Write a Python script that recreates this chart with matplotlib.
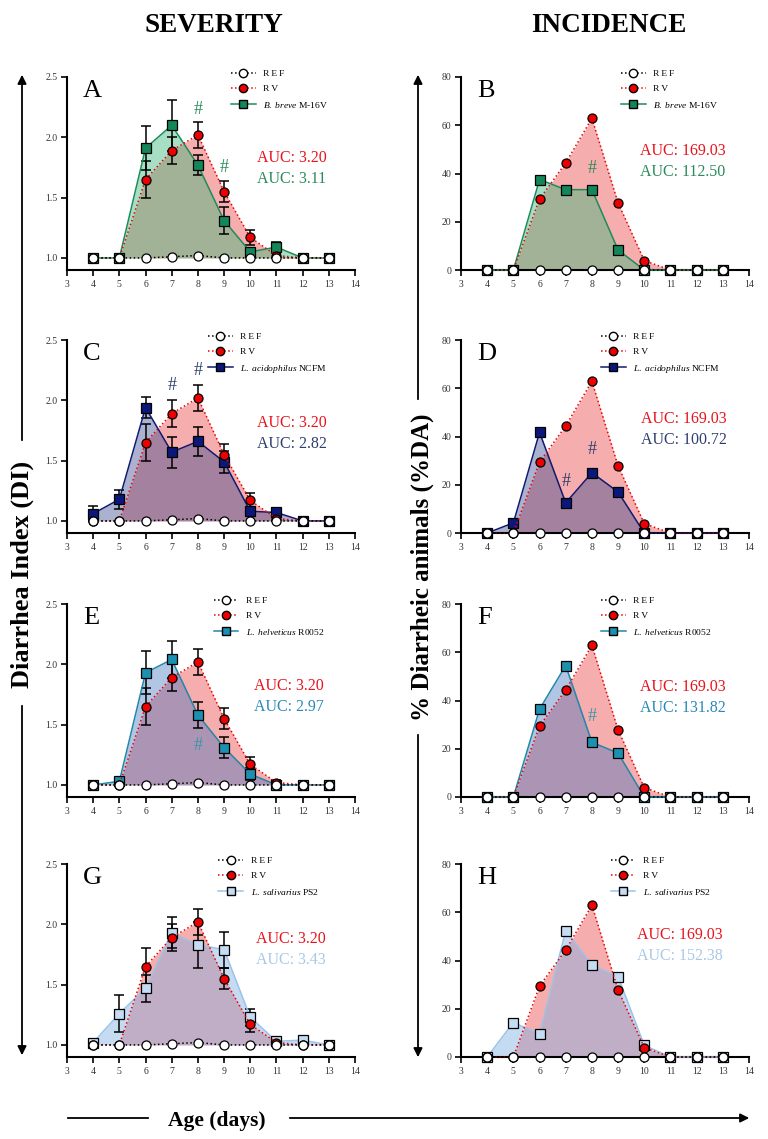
import matplotlib
matplotlib.use("Agg")
import matplotlib.pyplot as plt
from matplotlib.lines import Line2D
from matplotlib.patches import FancyArrowPatch
import numpy as np

plt.rcParams["font.family"] = ["Liberation Serif", "DejaVu Serif"]
plt.rcParams["mathtext.fontset"] = "custom"
plt.rcParams["mathtext.it"] = "Liberation Serif:italic"
plt.rcParams["mathtext.rm"] = "Liberation Serif"

days = [4, 5, 6, 7, 8, 9, 10, 11, 12, 13]

# severity (diarrhea index)
di_ref = [1.0, 1.0, 1.0, 1.01, 1.02, 1.0, 1.0, 1.0, 1.0, 1.0]
di_rv = [1.0, 1.0, 1.65, 1.89, 2.02, 1.55, 1.17, 1.02, 1.0, 1.0]
di_rv_sem = [0, 0, 0.15, 0.11, 0.11, 0.09, 0.06, 0.02, 0, 0]
di_breve = [1.0, 1.0, 1.91, 2.10, 1.77, 1.31, 1.05, 1.09, 1.0, 1.0]
di_breve_sem = [0, 0, 0.18, 0.21, 0.08, 0.11, 0.02, 0.04, 0, 0]
di_acid = [1.06, 1.18, 1.94, 1.57, 1.66, 1.49, 1.08, 1.07, 1.0, 1.0]
di_acid_sem = [0.06, 0.08, 0.09, 0.13, 0.12, 0.09, 0.02, 0.04, 0, 0]
di_helv = [1.0, 1.03, 1.93, 2.04, 1.58, 1.31, 1.09, 1.0, 1.0, 1.0]
di_helv_sem = [0, 0, 0.18, 0.15, 0.11, 0.09, 0.05, 0, 0, 0]
di_saliv = [1.02, 1.26, 1.47, 1.93, 1.83, 1.79, 1.23, 1.03, 1.04, 1.0]
di_saliv_sem = [0, 0.15, 0.11, 0.13, 0.19, 0.15, 0.07, 0.01, 0, 0]

# incidence (% diarrheic animals)
da_ref = [0, 0, 0, 0, 0, 0, 0, 0, 0, 0]
da_rv = [0, 0, 29.4, 44.4, 62.9, 27.8, 3.9, 0, 0, 0]
da_breve = [0, 0, 37.5, 33.3, 33.3, 8.3, 0, 0, 0, 0]
da_acid = [0, 4.2, 41.7, 12.5, 25.0, 17.0, 0, 0, 0, 0]
da_helv = [0, 0, 36.4, 54.5, 22.7, 18.2, 0, 0, 0, 0]
da_saliv = [0, 14.3, 9.5, 52.4, 38.1, 33.3, 4.8, 0, 0, 0]

strains = [r"$B.\ breve$ M-16V", r"$L.\ acidophilus$ NCFM",
           r"$L.\ helveticus$ R0052", r"$L.\ salivarius$ PS2"]
auc_rv = ["3.20", "169.03"]
auc_di = ["3.11", "2.82", "2.97", "3.43"]
auc_da = ["112.50", "100.72", "131.82", "152.38"]
# significance marks (day, y)
hash_di = [[(8, 2.23), (9, 1.75)], [(7, 2.12), (8, 2.25)], [(8, 1.33)], []]
hash_da = [[(8, 42)], [(7, 21.5), (8, 34.5)], [(8, 33.5)], []]

di_series = [(di_breve, di_breve_sem), (di_acid, di_acid_sem),
             (di_helv, di_helv_sem), (di_saliv, di_saliv_sem)]
da_series = [da_breve, da_acid, da_helv, da_saliv]

marker_c = ["#14875a", "#0c177a", "#1d8fb0", "#c5dcf2"]
line_c = ["#1e8c5a", "#101a70", "#2188a8", "#9cc3e8"]
fill_c = ["#3dba7c", "#2b3f8a", "#3d6fc0", "#7fb0e3"]
fill_a = [0.45, 0.4, 0.4, 0.45]
auc_c = ["#2a8a5c", "#2d3f6e", "#2a88b8", "#a8c8e8"]
hash_c = ["#2a8a5c", "#2d3f6e", "#3a96a8", "#a8c8e8"]
RED = "#ee0000"

W, H = 768, 1139
fig = plt.figure(figsize=(W / 100, H / 100), dpi=100)

col_left = [67, 461]
row_top = [77, 340, 604, 864]
ax_w, ax_h = 288, 193
letters = ["A", "B", "C", "D", "E", "F", "G", "H"]
leg_x = [[0.61, 0.596], [0.53, 0.526], [0.55, 0.526], [0.566, 0.56]]
auc_pos = [[(0.66, 0.58), (0.62, 0.617)], [(0.66, 0.57), (0.625, 0.59)],
           [(0.65, 0.575), (0.62, 0.57)], [(0.655, 0.61), (0.61, 0.63)]]


def spaced(s):
    return "\u2009".join(s)


for r in range(4):
    for c in range(2):
        ax = fig.add_axes([col_left[c] / W, 1 - (row_top[r] + ax_h) / H, ax_w / W, ax_h / H])
        x = np.array(days)
        if c == 0:
            ref, rv, rv_sem = di_ref, di_rv, di_rv_sem
            pro, pro_sem = di_series[r]
            base = 1.0
            ax.set_ylim(0.9, 2.5)
            ax.set_yticks([1.0, 1.5, 2.0, 2.5])
            ax.set_yticklabels(["1.0", "1.5", "2.0", "2.5"])
            auc = [auc_rv[0], auc_di[r]]
            hashes = hash_di[r]
        else:
            ref, rv, rv_sem = da_ref, da_rv, None
            pro, pro_sem = da_series[r], None
            base = 0.0
            ax.set_ylim(0, 80)
            ax.set_yticks([0, 20, 40, 60, 80])
            auc = [auc_rv[1], auc_da[r]]
            hashes = hash_da[r]

        ax.fill_between(x, rv, base, color="#ee6a6a", alpha=0.55, lw=0, zorder=1)
        ax.fill_between(x, pro, base, color=fill_c[r], alpha=fill_a[r], lw=0, zorder=2)

        if rv_sem is not None:
            ax.errorbar(x, rv, yerr=rv_sem, fmt="none", ecolor="k", elinewidth=1.1,
                        capsize=3.5, capthick=1.1, zorder=4, clip_on=False)
            ax.errorbar(x, pro, yerr=pro_sem, fmt="none", ecolor="k", elinewidth=1.1,
                        capsize=3.5, capthick=1.1, zorder=4, clip_on=False)

        ax.plot(x, pro, "-", color=line_c[r], lw=1.1, marker="s", ms=6.5,
                mfc=marker_c[r], mec="k", mew=0.9, zorder=5, clip_on=False)
        ax.plot(x, rv, ":", color=RED, lw=1.1, marker="o", ms=6.5,
                mfc=RED, mec="k", mew=0.9, zorder=6, clip_on=False)
        ax.plot(x, ref, ":", color="k", lw=1.1, marker="o", ms=6.5,
                mfc="white", mec="k", mew=0.9, zorder=7, clip_on=False)

        ax.set_xlim(3, 14)
        ax.set_xticks(range(3, 15))
        for s in ["top", "right"]:
            ax.spines[s].set_visible(False)
        for s in ["left", "bottom"]:
            ax.spines[s].set_linewidth(1.5)
        ax.tick_params(length=4, width=1.2, labelsize=7, labelcolor="#333333", pad=3)

        ax.text(0.055, 0.925, letters[2 * r + c], transform=ax.transAxes,
                fontsize=19, va="center", ha="left")

        ax0, ay0 = auc_pos[r][c]
        ax.text(ax0, ay0, "AUC: " + auc[0], transform=ax.transAxes, color="#e8131c",
                fontsize=11.5, va="center")
        ax.text(ax0, ay0 - 0.108, "AUC: " + auc[1], transform=ax.transAxes,
                color=auc_c[r], fontsize=11.5, va="center")

        for hx, hy in hashes:
            ax.text(hx, hy, "#", color=hash_c[r], fontsize=13,
                    ha="center", va="center", zorder=8)

        handles = [
            Line2D([], [], ls=":", color="k", lw=1.1, marker="o", ms=6, mfc="white", mec="k"),
            Line2D([], [], ls=":", color=RED, lw=1.1, marker="o", ms=6, mfc=RED, mec="k"),
            Line2D([], [], ls="-", color=line_c[r], lw=1.1, marker="s", ms=6,
                   mfc=marker_c[r], mec="k"),
        ]
        labels = [spaced("REF"), spaced("RV"), strains[r]]
        ax.legend(handles, labels, loc="upper left",
                  bbox_to_anchor=(leg_x[r][c] - 0.04, 1.04), frameon=False,
                  fontsize=6.8, handlelength=2.6, handletextpad=0.8,
                  labelspacing=0.7, borderpad=0, borderaxespad=0)

# column titles
fig.text(214 / W, 1 - 25 / H, "SEVERITY", fontsize=19.5, weight="bold", ha="center", va="center")
fig.text(609 / W, 1 - 25 / H, "INCIDENCE", fontsize=19.5, weight="bold", ha="center", va="center")

# side labels with arrows
fig.text(22 / W, 1 - 574 / H, "Diarrhea Index (DI)", fontsize=19, weight="bold",
         rotation=90, ha="center", va="center")
fig.text(422 / W, 1 - 567 / H, "% Diarrheic animals (%DA)", fontsize=18, weight="bold",
         rotation=90, ha="center", va="center")


def fpt(px, py):
    return (px / W, 1 - py / H)


def arrow(p0, p1):
    fig.add_artist(FancyArrowPatch(fpt(*p0), fpt(*p1), transform=fig.transFigure,
                                   arrowstyle="-|>", mutation_scale=13, lw=1.3, color="k"))


def seg(p0, p1):
    a, b = fpt(*p0), fpt(*p1)
    fig.add_artist(Line2D([a[0], b[0]], [a[1], b[1]], transform=fig.transFigure, lw=1.3, color="k"))


arrow((22, 443), (22, 72))
arrow((22, 703), (22, 1058))
arrow((418, 402), (418, 72))
arrow((418, 732), (418, 1060))

fig.text(217 / W, 1 - 1121 / H, "Age (days)", fontsize=15.5, weight="bold", ha="center", va="center")
seg((68, 1118), (148, 1118))
arrow((287, 1118), (752, 1118))

fig.savefig("out.png", dpi=100)
